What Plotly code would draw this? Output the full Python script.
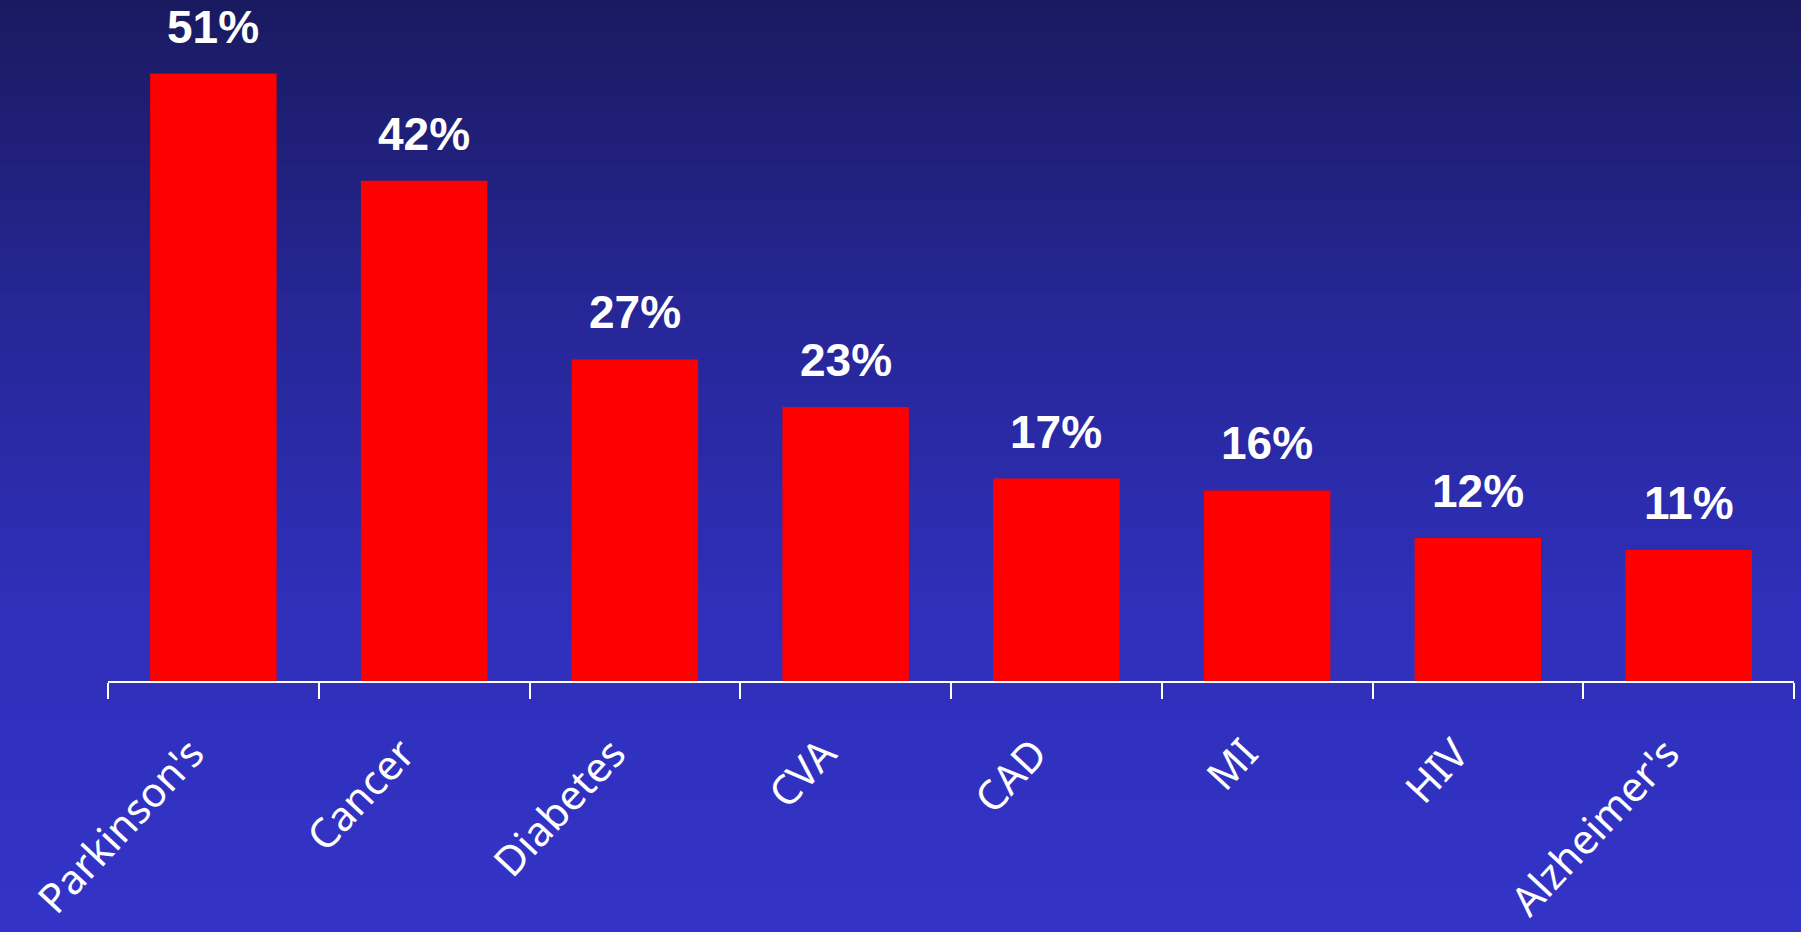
import plotly.graph_objects as go

categories = ["Parkinson's", "Cancer", "Diabetes", "CVA", "CAD", "MI", "HIV", "Alzheimer's"]
values = [51, 42, 27, 23, 17, 16, 12, 11]
value_labels = ["51%", "42%", "27%", "23%", "17%", "16%", "12%", "11%"]

W, H = 1801, 932
M_L, M_R, M_T, M_B = 108, 7, 0, 251

fig = go.Figure()
fig.add_trace(go.Bar(
    x=categories, y=values, width=0.6,
    marker=dict(color="#ff0000", line=dict(width=0)),
    hoverinfo="x+y",
))

# background gradient (paper coords; plot area spans 0..1)
stops = [(0.0, (26, 26, 96)), (0.33, (38, 38, 150)), (0.65, (47, 47, 186)), (1.0, (51, 51, 199))]
def col_at(t):
    for (t0, c0), (t1, c1) in zip(stops[:-1], stops[1:]):
        if t0 <= t <= t1:
            f = (t - t0) / (t1 - t0)
            return "rgb(%d,%d,%d)" % tuple(round(a + (b - a) * f) for a, b in zip(c0, c1))
    return "rgb(%d,%d,%d)" % stops[-1][1]

plot_h = H - M_T - M_B
N = 90
shapes = []
for i in range(N):
    py0 = H * i / N
    py1 = H * (i + 1) / N + 1
    y_top = 1 - (py0 - M_T) / plot_h
    y_bot = 1 - (py1 - M_T) / plot_h
    shapes.append(dict(type="rect", xref="paper", yref="paper",
                       x0=-M_L / (W - M_L - M_R) - 0.01, x1=1 + M_R / (W - M_L - M_R) + 0.01,
                       y0=y_bot, y1=y_top, fillcolor=col_at((i + 0.5) / N),
                       line=dict(width=0), layer="below"))

annotations = [dict(x=c, y=v, text=t, xref="x", yref="y", showarrow=False,
                    yanchor="bottom", yshift=19,
                    font=dict(family="Liberation Sans, Arial, sans-serif", size=46, color="white", weight="bold"))
               for c, v, t in zip(categories, values, value_labels)]

fig.update_layout(
    width=W, height=H,
    margin=dict(l=M_L, r=M_R, t=M_T, b=M_B, pad=0, autoexpand=False),
    paper_bgcolor="rgb(51,51,199)", plot_bgcolor="rgba(0,0,0,0)",
    shapes=shapes, annotations=annotations,
    showlegend=False, bargap=0.4,
    xaxis=dict(range=[-0.5, 7.5], showline=True, linecolor="white", linewidth=2,
               ticks="outside", tickson="boundaries", ticklen=16, tickwidth=2, tickcolor="white",
               tickangle=-47, showgrid=False, zeroline=False, automargin=False,
               tickfont=dict(family="Noto Sans, Open Sans, sans-serif", size=41, color="white"),
               ticklabelstandoff=30, ticklabelshift=-22),
    yaxis=dict(range=[0, 57.18], visible=False, showgrid=False, zeroline=False, automargin=False),
)

fig.write_html("out.html", include_plotlyjs=True, full_html=True,
               config={"displayModeBar": False},
               post_script="document.body.style.margin='0';document.body.style.overflow='hidden';")
